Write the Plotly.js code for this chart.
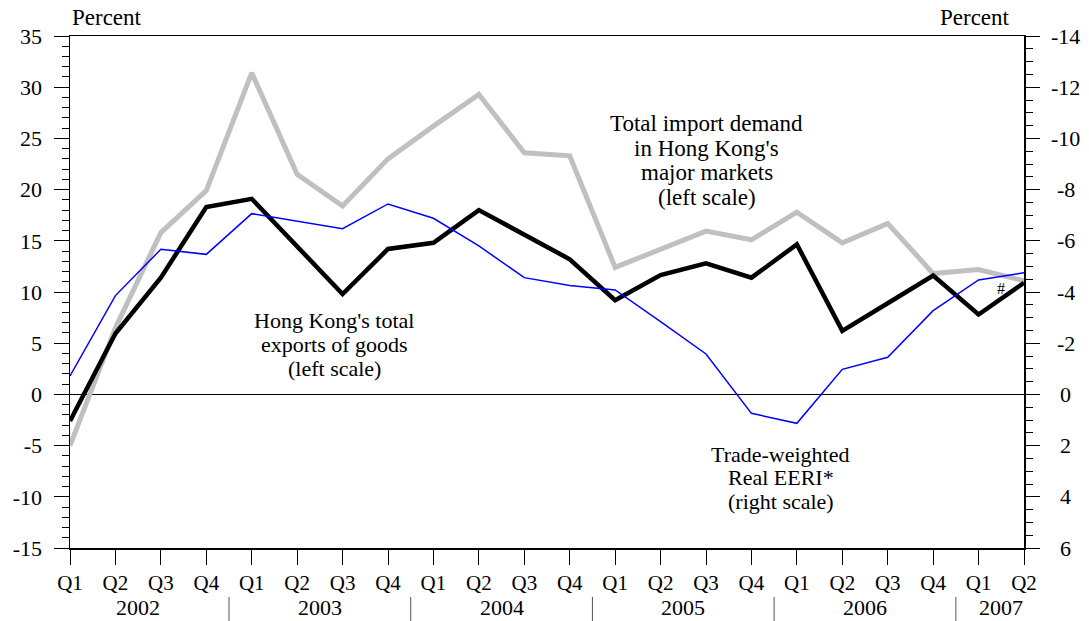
<!DOCTYPE html>
<html>
<head>
<meta charset="utf-8">
<script src="https://cdn.plot.ly/plotly-3.0.1.min.js"></script>
<style>html,body{margin:0;padding:0;background:#fff;}#chart{width:1089px;height:621px;}</style>
</head>
<body>
<div id="chart"></div>
<script>
// Quarters Q1 2002 .. Q2 2007
const quarterLabels = ["Q1","Q2","Q3","Q4","Q1","Q2","Q3","Q4","Q1","Q2","Q3","Q4","Q1","Q2","Q3","Q4","Q1","Q2","Q3","Q4","Q1","Q2"];
const years = ["2002","2003","2004","2005","2006","2007"];
const yearCenters = [1.5, 5.5, 9.5, 13.5, 17.5, 20.5];
const yearSeparators = [3.5, 7.5, 11.5, 15.5, 19.5];

// Left scale ticks and right (reversed) scale ticks
const leftTicks = [-15, -10, -5, 0, 5, 10, 15, 20, 25, 30, 35];
const leftTickText = ["-15", "-10", "-5", "0", "5", "10", "15", "20", "25", "30", "35"];
const rightTicks = [-14, -12, -10, -8, -6, -4, -2, 0, 2, 4, 6];
const rightTickText = ["-14", "-12", "-10", "-8", "-6", "-4", "-2", "0", "2", "4", "6"];

// Total import demand in Hong Kong's major markets (left scale, %)
const importDemand = [-5.0, 6.5, 15.8, 19.9, 31.4, 21.5, 18.4, 23.0, 26.2, 29.3, 23.6, 23.3, 12.4, 14.2, 15.95, 15.1, 17.8, 14.8, 16.7, 11.8, 12.2, 11.1];
// Hong Kong's total exports of goods (left scale, %)
const hkExports = [-2.6, 5.95, 11.4, 18.3, 19.1, 14.4, 9.8, 14.2, 14.8, 18.0, 15.6, 13.2, 9.2, 11.65, 12.8, 11.4, 14.65, 6.2, 8.9, 11.6, 7.8, 10.9];
// Trade-weighted Real EERI (right scale, reversed, %)
const realEERI = [-0.72, -3.86, -5.67, -5.47, -7.06, -6.76, -6.47, -7.44, -6.88, -5.8, -4.56, -4.25, -4.08, -2.84, -1.58, 0.74, 1.13, -0.98, -1.45, -3.27, -4.47, -4.75];

// Series labels (one entry per line)
const importLabel = ["Total import demand", "in Hong Kong's", "major markets", "(left scale)"];
const exportLabel = ["Hong Kong's total", "exports of goods", "(left scale)"];
const eeriLabel = ["Trade-weighted", "Real EERI*", "(right scale)"];

const xIdx = quarterLabels.map((_, i) => i);
const FONT = "Liberation Serif, Times New Roman, serif";

const traces = [
  {x: xIdx, y: importDemand, type: "scatter", mode: "lines", line: {color: "#c0c0c0", width: 5}, yaxis: "y", hoverinfo: "skip"},
  {x: xIdx, y: realEERI, type: "scatter", mode: "lines", line: {color: "#0000ff", width: 1.5}, yaxis: "y2", hoverinfo: "skip"},
  {x: xIdx, y: hkExports, type: "scatter", mode: "lines", line: {color: "#000000", width: 4.5}, yaxis: "y", hoverinfo: "skip"}
];

const annotations = [
  {text: "Percent", xref: "paper", yref: "paper", x: 0, y: 1.037, xanchor: "left", yanchor: "middle", showarrow: false, font: {size: 23}},
  {text: "Percent", xref: "paper", yref: "paper", x: 0.9874, y: 1.037, xanchor: "right", yanchor: "middle", showarrow: false, font: {size: 23}},
  {text: "#", xref: "x", yref: "y", x: 20.5, y: 10.35, showarrow: false, font: {size: 16}}
];
function addBlock(lines, xc, yPositions, yref, size) {
  lines.forEach((t, i) => annotations.push({text: t, xref: "x", yref: yref, x: xc, y: yPositions[i], yanchor: "middle", showarrow: false, font: {size: size}}));
}
addBlock(importLabel, 14.02, [26.5, 24.05, 21.7, 19.25], "y", 23);
addBlock(exportLabel, 5.82, [7.26, 4.88, 2.5], "y", 22);
addBlock(eeriLabel, 15.65, [-5.86, -8.1, -10.45], "y", 22);

years.forEach((yr, i) => {
  annotations.push({text: yr, xref: "x", yref: "paper", x: yearCenters[i], y: -0.117, yanchor: "middle", showarrow: false, font: {size: 22}});
});
rightTicks.forEach((v, i) => {
  annotations.push({text: rightTickText[i], xref: "paper", yref: "y2", x: 1.044, y: v, xanchor: "center", yanchor: "middle", showarrow: false, font: {size: 22}});
});

const shapes = yearSeparators.map(s => ({
  type: "line", xref: "x", yref: "paper", x0: s, x1: s, y0: -0.0957, y1: -0.145,
  line: {color: "#555555", width: 1}
}));

const layout = {
  width: 1089, height: 621,
  margin: {l: 70, r: 65, t: 36, b: 73},
  paper_bgcolor: "#ffffff", plot_bgcolor: "#ffffff",
  showlegend: false,
  font: {family: FONT, color: "#000000", size: 22},
  xaxis: {
    range: [0, 21], tickvals: xIdx, ticktext: quarterLabels,
    showgrid: false, zeroline: false, showline: true, mirror: true, linecolor: "#000", linewidth: 1.5,
    ticks: "outside", ticklen: 15, tickwidth: 1, tickcolor: "#000",
    tickfont: {size: 21}, fixedrange: true
  },
  yaxis: {
    range: [-15, 35], tickvals: leftTicks, ticktext: leftTickText,
    showgrid: false, zeroline: true, zerolinecolor: "#000", zerolinewidth: 1.5,
    showline: true, linecolor: "#000", linewidth: 1.5,
    ticks: "outside", ticklen: 15, tickwidth: 1, tickcolor: "#000",
    ticklabelstandoff: 7,
    minor: {dtick: 1, ticks: "outside", ticklen: 7, tickwidth: 1, tickcolor: "#000", showgrid: false},
    tickfont: {size: 22}, fixedrange: true
  },
  yaxis2: {
    overlaying: "y", side: "right", range: [6, -14], autorange: false,
    tickvals: rightTicks, showticklabels: false,
    showgrid: false, zeroline: false, showline: true, linecolor: "#000", linewidth: 1.5,
    ticks: "outside", ticklen: 14, tickwidth: 1, tickcolor: "#000",
    minor: {dtick: 0.5, ticks: "outside", ticklen: 7, tickwidth: 1, tickcolor: "#000", showgrid: false},
    fixedrange: true
  },
  annotations: annotations,
  shapes: shapes
};

Plotly.newPlot("chart", traces, layout, {displayModeBar: false, staticPlot: true});
</script>
</body>
</html>
